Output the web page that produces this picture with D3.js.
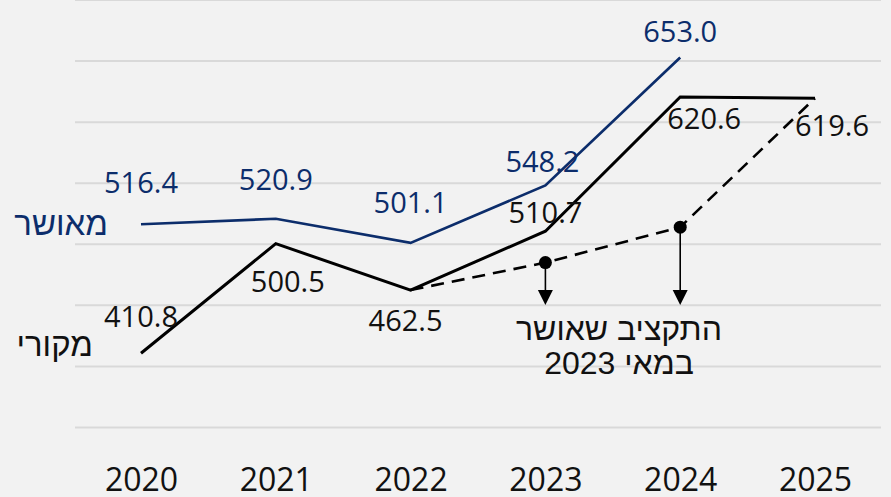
<!DOCTYPE html>
<html>
<head>
<meta charset="utf-8">
<script src="https://cdn.jsdelivr.net/npm/d3@7"></script>
<style>
  html, body { margin: 0; padding: 0; background: #f2f2f2; }
  svg { display: block; }
  text { font-family: "Open Sans", "Noto Sans", "DejaVu Sans", sans-serif; }
  .heb { font-family: "Liberation Sans", "DejaVu Sans", sans-serif; }
</style>
</head>
<body>
<svg id="chart" width="891" height="497"></svg>
<script>
// ---- data ----
const years = [2020, 2021, 2022, 2023, 2024, 2025];
const approvedYears = [2020, 2021, 2022, 2023, 2024];
const approvedValues = [516.4, 520.9, 501.1, 548.2, 653.0];
const originalValues = [410.8, 500.5, 462.5, 510.7, 620.6, 619.6];
const may2023Years = [2022, 2023, 2024, 2025];
const may2023Values = [462.5, 485.0, 514.0, 619.6];
const gridTicks = [350, 400, 450, 500, 550, 600, 650, 700];
const seriesNames = ["מאושר", "מקורי"];
const noteLines = ["התקציב שאושר", "במאי 2023"];

// label offsets (layout only)
const approvedLabelOffsets = [[0, -31], [0, -29], [0, -30], [-3, -13], [0, -15]];
const originalLabelOffsets = [[0, -26], [12, 48], [-5, 41], [0, -8], [24, 32], [17, 38]];

const blue = "#0c2d6b";
const black = "#000000";

const svg = d3.select("#chart");
const x = d3.scalePoint().domain(years).range([141, 815]);
const y = d3.scaleLinear().domain([350, 700]).range([427.5, 0]);

// gridlines
svg.append("g").selectAll("line").data(gridTicks).join("line")
  .attr("x1", 75).attr("x2", 881)
  .attr("y1", d => y(d)).attr("y2", d => y(d))
  .attr("stroke", "#d9d9d9").attr("stroke-width", 2);

// x axis labels
const xAxis = d3.axisBottom(x).tickSize(0).tickPadding(0);
const gx = svg.append("g").attr("transform", "translate(0,470)").call(xAxis);
gx.select(".domain").remove();
gx.selectAll("text")
  .attr("dy", null).attr("y", 21)
  .style("font-size", "32px").attr("fill", "#111")
  .style("font-family", "'Open Sans', 'Noto Sans', sans-serif");

const line = d3.line().x(d => x(d[0])).y(d => y(d[1]));

// dashed May 2023 budget line
svg.append("path")
  .datum(may2023Years.map((yr, i) => [yr, may2023Values[i]]))
  .attr("d", line).attr("fill", "none")
  .attr("stroke", black).attr("stroke-width", 2.6)
  .attr("stroke-dasharray", "13,8");

// original line
svg.append("path")
  .datum(years.map((yr, i) => [yr, originalValues[i]]))
  .attr("d", line).attr("fill", "none")
  .attr("stroke", black).attr("stroke-width", 3)
  .attr("stroke-linejoin", "miter");

// approved line
svg.append("path")
  .datum(approvedYears.map((yr, i) => [yr, approvedValues[i]]))
  .attr("d", line).attr("fill", "none")
  .attr("stroke", blue).attr("stroke-width", 2.7);

// dots + arrows for 2023, 2024 of May budget
const arrowPts = may2023Years.map((yr, i) => [yr, may2023Values[i]]).filter(d => d[0] === 2023 || d[0] === 2024);
const arrowTip = 305;
const ag = svg.append("g");
arrowPts.forEach(d => {
  const cx = x(d[0]), cy = y(d[1]);
  ag.append("line").attr("x1", cx).attr("x2", cx).attr("y1", cy).attr("y2", arrowTip - 12)
    .attr("stroke", black).attr("stroke-width", 1.6);
  ag.append("path")
    .attr("d", `M${cx - 7.5},${arrowTip - 15} L${cx + 7.5},${arrowTip - 15} L${cx},${arrowTip} Z`)
    .attr("fill", black);
  ag.append("circle").attr("cx", cx).attr("cy", cy).attr("r", 6.5).attr("fill", black);
});

// value labels
svg.append("g").selectAll("text").data(approvedValues).join("text")
  .attr("x", (d, i) => x(approvedYears[i]) + approvedLabelOffsets[i][0])
  .attr("y", (d, i) => y(d) + approvedLabelOffsets[i][1])
  .attr("text-anchor", "middle").attr("fill", blue)
  .style("font-size", "29px")
  .text(d => d.toFixed(1));

svg.append("g").selectAll("text").data(originalValues).join("text")
  .attr("x", (d, i) => x(years[i]) + originalLabelOffsets[i][0])
  .attr("y", (d, i) => y(d) + originalLabelOffsets[i][1])
  .attr("text-anchor", "middle").attr("fill", "#111")
  .style("font-size", "29px")
  .text(d => d.toFixed(1));

// series names
svg.append("text").attr("class", "heb").attr("x", 108).attr("y", 235).attr("text-anchor", "end")
  .attr("fill", blue).style("font-size", "33px")
  .text(seriesNames[0]);
svg.append("text").attr("class", "heb").attr("x", 93).attr("y", 356).attr("text-anchor", "end")
  .attr("fill", "#111").style("font-size", "33px")
  .text(seriesNames[1]);

// note text
noteLines.forEach((t, i) => {
  svg.append("text").attr("class", "heb").attr("text-anchor", "middle").attr("fill", "#111")
    .attr("x", 619).attr("y", 340 + i * 34)
    .style("font-size", "32px")
    .text(t);
});
</script>
</body>
</html>
